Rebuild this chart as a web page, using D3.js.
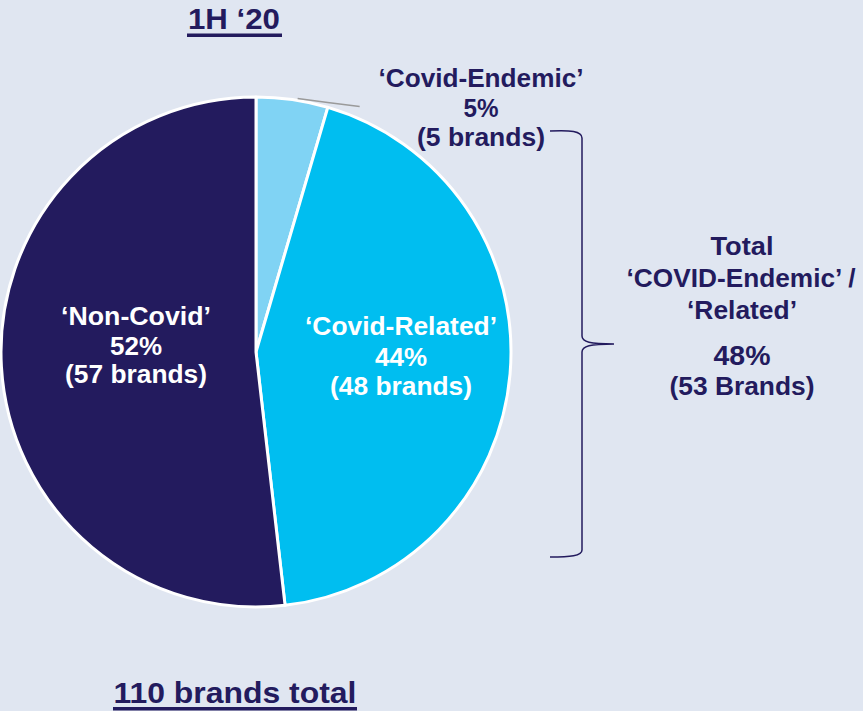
<!DOCTYPE html>
<html><head><meta charset="utf-8">
<script src="https://cdn.jsdelivr.net/npm/d3@7"></script>
<style>
html,body{margin:0;padding:0;background:#E0E6F1;}
svg{display:block;font-family:"Liberation Sans",Arial,sans-serif;font-weight:bold;}
</style></head><body>
<svg id="c" width="863" height="711"></svg>
<script>
// ---- data ----
const categories = ["‘Covid-Endemic’", "‘Covid-Related’", "‘Non-Covid’"];
const brands = [5, 48, 57];
const percentLabels = ["5%", "44%", "52%"];
const brandLabels = ["(5 brands)", "(48 brands)", "(57 brands)"];
const title = "1H ‘20";
const footer = "110 brands total";
const totalLines = ["Total", "‘COVID-Endemic’ /", "‘Related’"];
const totalPercent = "48%";
const totalBrands = "(53 Brands)";

// ---- drawing ----
const navy = "#231B5E";
const colors = ["#80D3F4", "#00BEF0", "#231B5E"];
const svg = d3.select("#c");
const cx = 256, cy = 352, R = 255;

const pie = d3.pie().sort(null).value(d => d)(brands);
const arc = d3.arc().innerRadius(0).outerRadius(R);
const g = svg.append("g").attr("transform", `translate(${cx},${cy})`);
g.selectAll("path").data(pie).join("path")
  .attr("d", arc).attr("fill", (d, i) => colors[i])
  .attr("stroke", "#fff").attr("stroke-width", 3).attr("stroke-linejoin", "round");

function txt(s, x, y, size, fill, len) {
  const t = svg.append("text").attr("x", x).attr("y", y).attr("text-anchor", "middle")
    .attr("font-size", size).attr("fill", fill).text(s);
  if (len) t.attr("textLength", len).attr("lengthAdjust", "spacingAndGlyphs");
  return t;
}

// leader line for small slice
const a0 = pie[0];
const mid = (a0.startAngle + a0.endAngle) / 2 + 0.02;
const lp = [cx + Math.sin(mid) * (R + 2), cy - Math.cos(mid) * (R + 2)];
svg.append("path").attr("d", `M${lp[0]},${lp[1]} L${lp[0] + 30},${lp[1] + 4} L${lp[0] + 62},${lp[1] + 8}`)
  .attr("fill", "none").attr("stroke", "#9a9a9a").attr("stroke-width", 1.5);

// Endemic label (outside)
txt(categories[0], 481, 87, 25, navy, 205);
txt(percentLabels[0], 481, 117, 25, navy, 35);
txt(brandLabels[0], 481, 146, 25, navy, 128);

// Related label
txt(categories[1], 401, 335, 26, "#fff", 192);
txt(percentLabels[1], 401, 366, 26, "#fff", 52);
txt(brandLabels[1], 401, 395, 26, "#fff", 142);

// Non-covid label
txt(categories[2], 136, 325, 26, "#fff", 150);
txt(percentLabels[2], 136, 355, 26, "#fff", 52);
txt(brandLabels[2], 136, 383, 26, "#fff", 142);

// Brace
svg.append("path")
  .attr("d", "M550,131 C570,130 582,131 582,138 L582,336 C582,342 590,344 614,344 C590,344 582,346 582,352 L582,550 C582,556 570,557 550,557")
  .attr("fill", "none").attr("stroke", navy).attr("stroke-width", 1.5);

// Total text
txt(totalLines[0], 742, 255, 25, navy, 63);
txt(totalLines[1], 741, 287, 25, navy, 229);
txt(totalLines[2], 742, 319, 25, navy, 110);
txt(totalPercent, 742, 365, 28, navy, 57);
txt(totalBrands, 742, 395, 25, navy, 145);

// Title & footer with underline
txt(title, 234, 29, 29, navy, 92);
svg.append("rect").attr("x", 187).attr("y", 33.5).attr("width", 95).attr("height", 3.5).attr("fill", navy);
txt(footer, 235, 703, 29, navy, 243);
svg.append("rect").attr("x", 113).attr("y", 707).attr("width", 244).attr("height", 3.5).attr("fill", navy);
</script>
</body></html>
